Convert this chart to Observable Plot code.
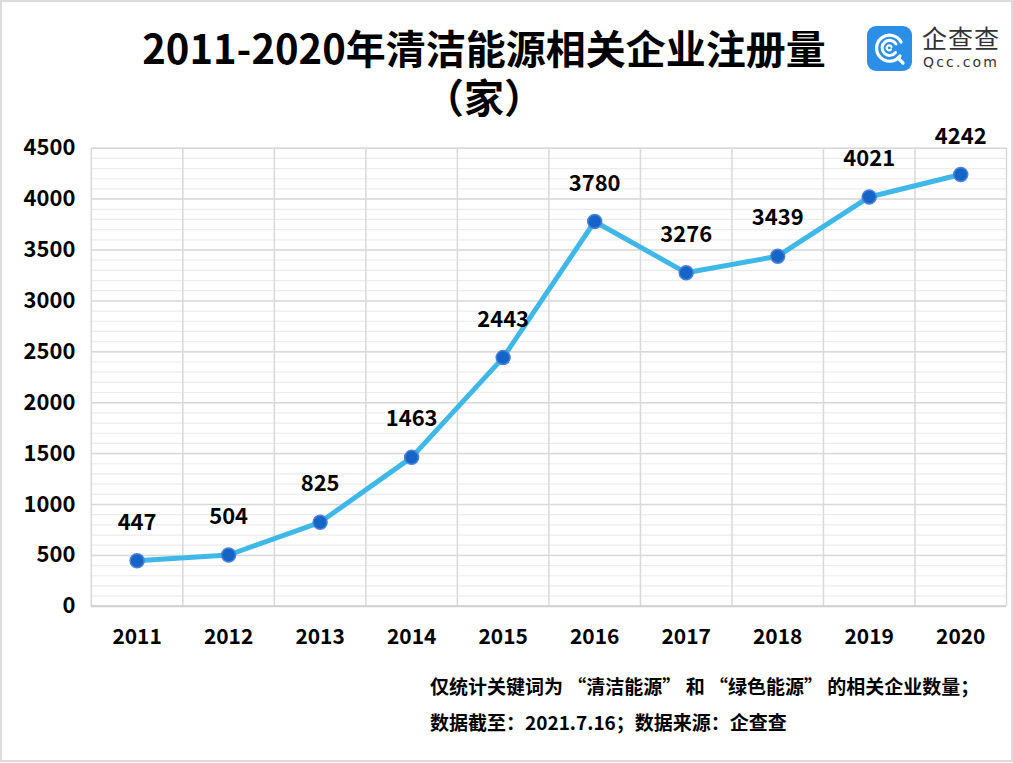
<!DOCTYPE html>
<html>
<head>
<meta charset="utf-8">
<script src="https://cdn.jsdelivr.net/npm/d3@7"></script>
<script src="https://cdn.jsdelivr.net/npm/@observablehq/plot@0.6"></script>
<style>
  html, body { margin: 0; padding: 0; background: #fff; }
  #frame { position: absolute; left: 0; top: 0; width: 1013px; height: 762px; box-sizing: border-box; border: 2px solid #dcdcdc; background: #fff; overflow: hidden; }
  .title { position: absolute; left: 0; width: 964px; text-align: center; font-family: "Noto Sans CJK SC", sans-serif; font-weight: 700; font-size: 40px; line-height: 46px; color: #000; }
  #chart { position: absolute; left: -2px; top: -2px; }
  .cap { position: absolute; left: 428px; font-family: "Noto Sans CJK SC", sans-serif; font-weight: 700; font-size: 19px; line-height: 26px; color: #000; white-space: nowrap; }
  #logo { position: absolute; left: 864px; top: 23px; width: 140px; height: 50px; }
  #logo .name { position: absolute; left: 56px; top: -2px; font-family: "Noto Sans CJK SC", sans-serif; font-size: 25px; line-height: 28px; color: #333; letter-spacing: 1px; }
  #logo .url { position: absolute; left: 57px; top: 29px; font-family: "DejaVu Sans", sans-serif; font-size: 14px; line-height: 16px; color: #333; letter-spacing: 2.2px; }
</style>
</head>
<body>
<div id="frame">
  <div class="title" style="top:22px">2011-2020年清洁能源相关企业注册量</div>
  <div class="title" style="top:71px">（家）</div>
  <div id="chart"></div>
  <div class="cap" style="top:671px">仅统计关键词为 “清洁能源” 和 “绿色能源” 的相关企业数量；</div>
  <div class="cap" style="top:707px">数据截至：2021.7.16；数据来源：企查查</div>
  <div id="logo">
    <svg width="48" height="48" viewBox="0 0 48 48" style="position:absolute;left:0;top:0">
      <rect x="1" y="1" width="45" height="45" rx="9" fill="#2b8fe8"/>
      <path d="M34 31 A13 13 0 1 1 35 17" fill="none" stroke="#fff" stroke-width="3.2" stroke-linecap="round"/>
      <path d="M29.5 27.5 A7.5 7.5 0 1 1 30 19" fill="none" stroke="#fff" stroke-width="3" stroke-linecap="round"/>
      <path d="M25 24.5 A2.5 2.5 0 1 1 25.5 22" fill="none" stroke="#fff" stroke-width="2.2" stroke-linecap="round"/>
      <path d="M32 33 L37 38" stroke="#fff" stroke-width="3.2" stroke-linecap="round"/>
    </svg>
    <div class="name">企查查</div>
    <div class="url">Qcc.com</div>
  </div>
</div>
<script>
const years = [2011, 2012, 2013, 2014, 2015, 2016, 2017, 2018, 2019, 2020];
const counts = [447, 504, 825, 1463, 2443, 3780, 3276, 3439, 4021, 4242];
const yMajor = [0, 500, 1000, 1500, 2000, 2500, 3000, 3500, 4000, 4500];
const yMinor = d3.range(0, 4501, 100);

const data = years.map((year, i) => ({year, count: counts[i]}));
const bounds = years.map(y => y - 0.5).concat([years[years.length - 1] + 0.5]);

const chart = Plot.plot({
  width: 1013,
  height: 665,
  marginTop: 148,
  marginLeft: 91,
  marginRight: 5,
  marginBottom: 58,
  style: { fontFamily: "Noto Sans CJK SC", fontWeight: "bold", fontSize: "21px", color: "#000", background: "transparent" },
  x: { type: "linear", domain: [years[0] - 0.5, years[years.length - 1] + 0.5] },
  y: { domain: [0, 4500] },
  marks: [
    Plot.ruleY(yMinor, { stroke: "#ececec", strokeWidth: 1.2 }),
    Plot.ruleY(yMajor, { stroke: "#d9d9d9", strokeWidth: 1.5 }),
    Plot.ruleX(bounds, { stroke: "#d9d9d9", strokeWidth: 1.5 }),
    Plot.ruleY([0], { stroke: "#d0d0d0", strokeWidth: 2 }),
    Plot.axisY({ ticks: yMajor, tickFormat: d => String(d), tickSize: 0, tickPadding: 16, fontSize: 22, fill: "#000", label: null }),
    Plot.axisX({ ticks: years, tickFormat: d => String(d), tickSize: 0, tickPadding: 23, fontSize: 21, fill: "#000", label: null }),
    Plot.line(data, { x: "year", y: "count", stroke: "#3fb8e8", strokeWidth: 5, strokeLinejoin: "round" }),
    Plot.dot(data, { x: "year", y: "count", r: 7, fill: "#1565c8", stroke: "#4d82d6", strokeWidth: 1.5 }),
    Plot.text(data, { x: "year", y: "count", text: d => String(d.count), dy: -38, fontSize: 22, fill: "#000" })
  ]
});
document.getElementById("chart").appendChild(chart);
</script>
</body>
</html>
